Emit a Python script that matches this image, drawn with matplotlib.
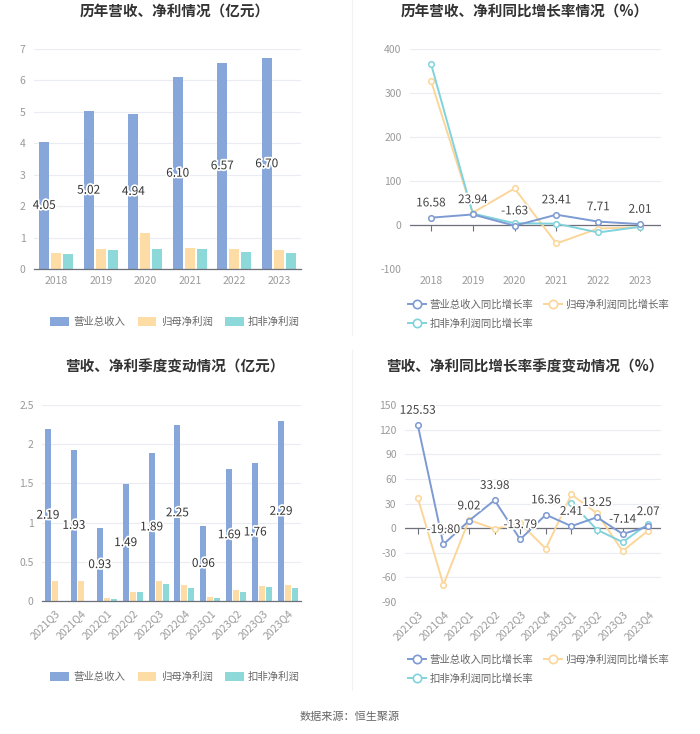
import numpy as np
import matplotlib
matplotlib.use('Agg')
import matplotlib.pyplot as plt
import matplotlib.patheffects as pe
from matplotlib.lines import Line2D
from matplotlib.patches import Patch

plt.rcParams['font.family'] = ['Noto Sans CJK SC', 'DejaVu Sans']

# ---- data ----
years = ['2018', '2019', '2020', '2021', '2022', '2023']
rev_y = [4.05, 5.02, 4.94, 6.10, 6.57, 6.70]
np_y = [0.50, 0.64, 1.15, 0.68, 0.63, 0.60]
kf_y = [0.47, 0.60, 0.63, 0.65, 0.54, 0.52]

rev_y_g = [16.58, 23.94, -1.63, 23.41, 7.71, 2.01]
np_y_g = [328, 28, 83, -42, -8, -5]
kf_y_g = [367, 26, 4, 3, -17, -4]

quarters = ['2021Q3', '2021Q4', '2022Q1', '2022Q2', '2022Q3',
            '2022Q4', '2023Q1', '2023Q2', '2023Q3', '2023Q4']
rev_q = [2.19, 1.93, 0.93, 1.49, 1.89, 2.25, 0.96, 1.69, 1.76, 2.29]
np_q = [0.25, 0.26, 0.04, 0.12, 0.26, 0.20, 0.05, 0.14, 0.19, 0.20]
kf_q = [np.nan, np.nan, 0.03, 0.12, 0.22, 0.16, 0.04, 0.12, 0.18, 0.17]

rev_q_g = [125.53, -19.80, 9.02, 33.98, -13.79, 16.36, 2.41, 13.25, -7.14, 2.07]
np_q_g = [37, -69, 10, -1, 6, -25, 41, 18, -28, -3]
kf_q_g = [np.nan, np.nan, np.nan, np.nan, np.nan, np.nan, 31, -2, -17, 5]

# ---- style ----
C_REV = '#87a7da'
C_NP = '#fddca6'
C_KF = '#8dd9d9'
L_REV = '#7d9ad3'
L_NP = '#fcd699'
L_KF = '#80d3dc'
GRID = '#e9ecf3'
TICK = '#9a9a9a'
AXIS = '#6e7079'

W, H = 700, 734
fig = plt.figure(figsize=(W / 100, H / 100), dpi=100)


def box(l, r, t, b):
    return [l / W, (H - b) / H, (r - l) / W, (b - t) / H]


def base(ax, ymin, ymax, step):
    ax.set_ylim(ymin, ymax)
    ticks = np.arange(ymin, ymax + step / 2, step)
    ax.set_yticks(ticks)
    ax.set_yticklabels(['%g' % t for t in ticks])
    ax.grid(axis='y', color=GRID, linewidth=0.8)
    ax.set_axisbelow(True)
    for s in ['top', 'right', 'left']:
        ax.spines[s].set_visible(False)
    ax.tick_params(axis='y', length=0, labelcolor=TICK, labelsize=7.5, pad=6)
    ax.tick_params(axis='x', length=0, labelcolor=TICK, labelsize=7.5, pad=5)


stroke = [pe.withStroke(linewidth=2.5, foreground='white')]


def set_cats(ax, cats, rot):
    x = np.arange(len(cats))
    ax.set_xlim(-0.5, len(cats) - 0.5)
    ax.set_xticks(x)
    if rot:
        ax.set_xticklabels(cats, rotation=45, ha='right', rotation_mode='anchor')
    else:
        ax.set_xticklabels(cats)
    return x


def bars(ax, cats, rev, npv, kf, w, rot):
    x = set_cats(ax, cats, rot)
    ax.bar(x - 0.27, rev, w, color=C_REV)
    ax.bar(x, npv, w, color=C_NP)
    ax.bar(x + 0.27, kf, w, color=C_KF)
    for xi, v in zip(x, rev):
        ax.text(xi - 0.27, v / 2, '%.2f' % v, ha='center', va='center',
                fontsize=8.5, color='#333333', path_effects=stroke)
    ax.spines['bottom'].set_color(AXIS)
    ax.spines['bottom'].set_linewidth(0.9)


def lines(ax, cats, rev, npv, kf, rot):
    x = set_cats(ax, cats, rot)
    ax.spines['bottom'].set_visible(False)
    ax.axhline(0, color=AXIS, linewidth=0.9, zorder=1.5)
    y0, y1 = ax.get_ylim()
    sec = ax.secondary_xaxis((0 - y0) / (y1 - y0))
    sec.set_xticks(x)
    sec.set_xticklabels([])
    sec.tick_params(length=4, color=AXIS, width=0.8)
    sec.spines['bottom'].set_visible(False)
    mk = dict(marker='o', markersize=4, markerfacecolor='white', markeredgewidth=1.1)
    ax.plot(x, npv, color=L_NP, markeredgecolor=L_NP, linewidth=1.4, zorder=3, **mk)
    ax.plot(x, kf, color=L_KF, markeredgecolor=L_KF, linewidth=1.4, zorder=3, **mk)
    ax.plot(x, rev, color=L_REV, markeredgecolor=L_REV, linewidth=1.4, zorder=3, **mk)
    for xi, v in zip(x, rev):
        ax.annotate('%.2f' % v, (xi, v), xytext=(0, 6), textcoords='offset points',
                    ha='center', va='bottom', fontsize=8.5, color='#444444',
                    path_effects=stroke, zorder=4)


def title(x, y, s):
    fig.text(x / W, 1 - y / H, s, ha='center', va='center', fontsize=10.5,
             fontweight='bold', color='#333333')


bar_handles = [Patch(facecolor=C_REV, label='营业总收入'),
               Patch(facecolor=C_NP, label='归母净利润'),
               Patch(facecolor=C_KF, label='扣非净利润')]


def lh(c, lab):
    return Line2D([0], [0], color=c, marker='o', markersize=6, markerfacecolor='white',
                  markeredgecolor=c, markeredgewidth=1.2, linewidth=1.4, label=lab)


line_handles = [lh(L_REV, '营业总收入同比增长率'), lh(L_KF, '扣非净利润同比增长率'),
                lh(L_NP, '归母净利润同比增长率')]


def bar_legend(ax, y):
    ax.legend(handles=bar_handles, loc='center', bbox_to_anchor=(175 / W, 1 - y / H),
              bbox_transform=fig.transFigure, ncol=3, frameon=False, fontsize=7.5,
              labelcolor='#666666', handlelength=1.8, handleheight=1.0,
              handletextpad=0.4, columnspacing=1.2)


def line_legend(ax, x, y):
    ax.legend(handles=line_handles, loc='upper left', bbox_to_anchor=(x / W, 1 - y / H),
              bbox_transform=fig.transFigure, ncol=2, frameon=False, fontsize=7.5,
              labelcolor='#666666', handlelength=1.7, handletextpad=0.35,
              columnspacing=1.0, labelspacing=0.85, borderpad=0.2)


# top-left
ax1 = fig.add_axes(box(34, 301, 49, 269))
base(ax1, 0, 7, 1)
bars(ax1, years, rev_y, np_y, kf_y, 0.22, False)
title(175, 12, '历年营收、净利情况（亿元）')
bar_legend(ax1, 322)

# top-right
ax2 = fig.add_axes(box(410, 661, 49, 269))
base(ax2, -100, 400, 100)
lines(ax2, years, rev_y_g, np_y_g, kf_y_g, False)
title(525, 12, '历年营收、净利同比增长率情况（%）')
line_legend(ax2, 401, 292)

# bottom-left
ax3 = fig.add_axes(box(42, 301, 405, 601))
base(ax3, 0, 2.5, 0.5)
bars(ax3, quarters, rev_q, np_q, kf_q, 0.23, True)
title(175, 367, '营收、净利季度变动情况（亿元）')
bar_legend(ax3, 677)

# bottom-right
ax4 = fig.add_axes(box(405, 661, 405, 602))
base(ax4, -90, 150, 30)
lines(ax4, quarters, rev_q_g, np_q_g, kf_q_g, True)
title(525, 367, '营收、净利同比增长率季度变动情况（%）')
line_legend(ax4, 401, 647)

# separators
fig.add_artist(Line2D([352 / W, 352 / W], [1 - 0 / H, 1 - 335 / H], color='#f2f2f2', linewidth=0.8))
fig.add_artist(Line2D([352 / W, 352 / W], [1 - 350 / H, 1 - 690 / H], color='#f2f2f2', linewidth=0.8))

fig.text(0.5, 1 - 717 / H, '数据来源：恒生聚源', ha='center', va='center',
         fontsize=8, color='#666666')

fig.savefig('out.png', dpi=100)
